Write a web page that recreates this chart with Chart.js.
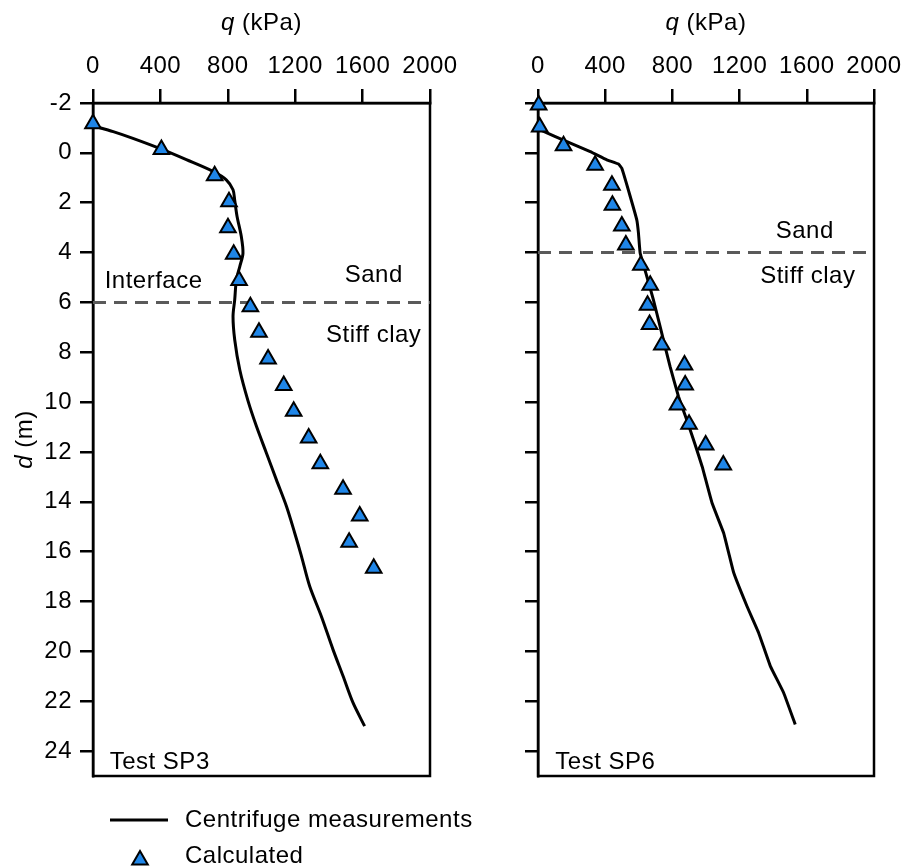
<!DOCTYPE html>
<html>
<head>
<meta charset="utf-8">
<script src="https://cdn.jsdelivr.net/npm/chart.js@4"></script>
<style>
  html, body { margin: 0; padding: 0; background: #fff; }
  #wrap { position: relative; width: 904px; height: 867px; }
  canvas { position: absolute; top: 0; }
  #c1 { left: 0; }
  #c2 { left: 450px; }
</style>
</head>
<body>
<div id="wrap">
  <canvas id="c1" width="904" height="867"></canvas>
  <canvas id="c2" width="454" height="867"></canvas>
</div>
<script>
const qTicks = [0, 400, 800, 1200, 1600, 2000];
const dTicks = [-2, 0, 2, 4, 6, 8, 10, 12, 14, 16, 18, 20, 22, 24];

// Test SP3
const sp3MeasQ = [5, 120, 237, 406, 554, 712, 791, 831, 841, 855, 880, 890, 871, 851, 841, 831, 841, 871, 920, 970, 1029, 1088, 1148, 1197, 1237, 1286, 1355, 1424, 1484, 1543, 1612];
const sp3MeasD = [-1.08, -0.85, -0.58, -0.15, 0.27, 0.74, 1.08, 1.48, 1.9, 2.55, 3.35, 4.03, 4.56, 5.09, 5.9, 6.56, 7.5, 8.7, 9.95, 10.97, 12.04, 13.11, 14.18, 15.25, 16.18, 17.39, 18.59, 19.92, 20.99, 22.06, 23.0];
const sp3CalcQ = [0, 406, 722, 807, 801, 835, 867, 934, 985, 1039, 1132, 1191, 1280, 1349, 1484, 1583, 1520, 1666];
const sp3CalcD = [-1.17, -0.13, 0.92, 1.96, 3.0, 4.07, 5.12, 6.17, 7.2, 8.27, 9.33, 10.37, 11.44, 12.47, 13.5, 14.57, 15.62, 16.67];
const sp3Interface = 6;

// Test SP6
const sp6MeasQ = [14, 172, 311, 410, 479, 499, 549, 588, 598, 608, 648, 687, 727, 786, 836, 885, 935, 977, 1036, 1105, 1135, 1165, 1244, 1313, 1383, 1462, 1531];
const sp6MeasD = [-0.92, -0.45, -0.05, 0.28, 0.45, 0.62, 1.75, 2.69, 3.22, 4.02, 4.96, 5.9, 6.97, 8.57, 9.77, 10.7, 11.7, 12.58, 14.05, 15.25, 16.05, 16.85, 18.19, 19.25, 20.59, 21.66, 22.93];
const sp6CalcQ = [4, 10, 152, 340, 440, 443, 499, 523, 612, 668, 652, 664, 737, 872, 876, 830, 899, 998, 1103];
const sp6CalcD = [-1.92, -1.04, -0.28, 0.5, 1.3, 2.1, 2.93, 3.7, 4.51, 5.31, 6.11, 6.89, 7.71, 8.51, 9.31, 10.12, 10.89, 11.72, 12.52];
const sp6Interface = 4;

const FONT = "'Liberation Sans', Arial, sans-serif";
const FS = 24;
const BLUE = '#1f86e8';
const AXW = 2.5;

const pts = (qs, ds) => qs.map((q, i) => ({ x: q, y: ds[i] }));

const panelDecor = {
  id: 'panelDecor',
  beforeDraw(chart) {
    chart.ctx.letterSpacing = '0.5px';
  },
  beforeDatasetsDraw(chart) {
    const { ctx, chartArea: a } = chart;
    ctx.save();
    ctx.strokeStyle = '#000';
    ctx.lineWidth = AXW;
    ctx.strokeRect(a.left, a.top, a.right - a.left, a.bottom - a.top);
    ctx.restore();
  },
  afterDraw(chart, args, o) {
    const { ctx, chartArea: a, scales } = chart;
    const xs = scales.x, ys = scales.y;
    ctx.save();
    ctx.fillStyle = '#000';
    ctx.textBaseline = 'middle';
    // x title: q (kPa)
    ctx.font = `italic ${FS}px ${FONT}`;
    const wq = ctx.measureText('q').width;
    ctx.font = `${FS}px ${FONT}`;
    const wr = ctx.measureText(' (kPa)').width;
    const cx = (a.left + a.right) / 2;
    const x0 = cx - (wq + wr) / 2;
    ctx.textAlign = 'left';
    ctx.font = `italic ${FS}px ${FONT}`;
    ctx.fillText('q', x0, 23);
    ctx.font = `${FS}px ${FONT}`;
    ctx.fillText(' (kPa)', x0 + wq, 23);
    // y title: d (m)
    if (o.yTitle) {
      ctx.save();
      ctx.translate(25, (a.top + a.bottom) / 2);
      ctx.rotate(-Math.PI / 2);
      ctx.font = `italic ${FS}px ${FONT}`;
      const wd = ctx.measureText('d').width;
      ctx.font = `${FS}px ${FONT}`;
      const wm = ctx.measureText(' (m)').width;
      const s = -(wd + wm) / 2;
      ctx.font = `italic ${FS}px ${FONT}`;
      ctx.fillText('d', s, 0);
      ctx.font = `${FS}px ${FONT}`;
      ctx.fillText(' (m)', s + wd, 0);
      ctx.restore();
    }
    // notes in data coordinates
    ctx.font = `${FS}px ${FONT}`;
    (o.notes || []).forEach(n => {
      ctx.textAlign = n.align || 'center';
      ctx.fillText(n.text, xs.getPixelForValue(n.q), ys.getPixelForValue(n.d));
    });
    // legend
    if (o.legend) {
      ctx.strokeStyle = '#000';
      ctx.lineWidth = 3;
      ctx.beginPath();
      ctx.moveTo(110, 820);
      ctx.lineTo(168, 820);
      ctx.stroke();
      ctx.fillStyle = BLUE;
      ctx.lineWidth = 2;
      ctx.beginPath();
      const r = 9;
      for (let k = 0; k < 3; k++) {
        const ang = k * 2 * Math.PI / 3;
        const px = 140 + Math.sin(ang) * r, py = 860 - Math.cos(ang) * r;
        k ? ctx.lineTo(px, py) : ctx.moveTo(px, py);
      }
      ctx.closePath();
      ctx.fill();
      ctx.stroke();
      ctx.fillStyle = '#000';
      ctx.textAlign = 'left';
      ctx.font = `${FS}px ${FONT}`;
      ctx.fillText('Centrifuge measurements', 185, 820);
      ctx.fillText('Calculated', 185, 856);
    }
    ctx.restore();
  }
};

function makePanel(canvas, cfg) {
  return new Chart(canvas.getContext('2d'), {
    type: 'scatter',
    data: {
      datasets: [
        {
          label: 'Interface',
          data: [{ x: qTicks[0], y: cfg.iface }, { x: qTicks[qTicks.length - 1], y: cfg.iface }],
          showLine: true,
          borderColor: '#5a5a5a',
          borderWidth: 3,
          borderDash: [13, 8],
          pointRadius: 0,
          order: 3
        },
        {
          label: 'Centrifuge measurements',
          data: cfg.meas,
          showLine: true,
          borderColor: '#000',
          borderWidth: 3,
          tension: cfg.tension,
          pointRadius: 0,
          order: 2
        },
        {
          label: 'Calculated',
          data: cfg.calc,
          pointStyle: 'triangle',
          pointRadius: 9,
          pointBorderWidth: 2,
          pointBackgroundColor: BLUE,
          pointBorderColor: '#000',
          clip: false,
          order: 1
        }
      ]
    },
    options: {
      responsive: false,
      animation: false,
      events: [],
      layout: { padding: { left: 0, top: 0, right: cfg.padRight, bottom: 91 } },
      plugins: {
        legend: { display: false },
        tooltip: { enabled: false },
        panelDecor: { yTitle: cfg.yTitle, notes: cfg.notes, legend: cfg.legend }
      },
      scales: {
        x: {
          type: 'linear',
          position: 'top',
          min: 0, max: 2000,
          afterBuildTicks: s => { s.ticks = qTicks.map(v => ({ value: v })); },
          afterFit: s => { s.height = 103; s.paddingLeft = 0; s.paddingRight = 0; },
          grid: { drawOnChartArea: false, color: '#000', lineWidth: AXW, tickLength: 14 },
          border: { display: true, color: '#000', width: AXW },
          ticks: {
            color: '#000', font: { family: FONT, size: FS }, padding: 8, maxRotation: 0,
            callback: v => String(v)
          }
        },
        y: {
          type: 'linear',
          position: 'left',
          reverse: true,
          min: -2, max: 25,
          afterBuildTicks: s => { s.ticks = dTicks.map(v => ({ value: v })); },
          afterFit: s => { s.width = cfg.yWidth; s.paddingTop = 0; s.paddingBottom = 0; },
          grid: { drawOnChartArea: false, color: '#000', lineWidth: AXW, tickLength: 13 },
          border: { display: true, color: '#000', width: AXW },
          ticks: {
            color: '#000', font: { family: FONT, size: FS }, padding: 8,
            callback: v => cfg.yLabels ? String(v) : ''
          }
        }
      }
    },
    plugins: [panelDecor]
  });
}

makePanel(document.getElementById('c1'), {
  meas: pts(sp3MeasQ, sp3MeasD),
  calc: pts(sp3CalcQ, sp3CalcD),
  iface: sp3Interface,
  tension: 0.3,
  yWidth: 93,
  padRight: 474,
  yLabels: true,
  yTitle: true,
  legend: true,
  notes: [
    { text: 'Interface', q: 69, d: 5.17, align: 'left' },
    { text: 'Sand', q: 1666, d: 4.93 },
    { text: 'Stiff clay', q: 1666, d: 7.34 },
    { text: 'Test SP3', q: 99, d: 24.45, align: 'left' }
  ]
});

makePanel(document.getElementById('c2'), {
  meas: pts(sp6MeasQ, sp6MeasD),
  calc: pts(sp6CalcQ, sp6CalcD),
  iface: sp6Interface,
  tension: 0.1,
  yWidth: 88,
  padRight: 30,
  yLabels: false,
  yTitle: false,
  legend: false,
  notes: [
    { text: 'Sand', q: 1588, d: 3.17 },
    { text: 'Stiff clay', q: 1606, d: 4.97 },
    { text: 'Test SP6', q: 103, d: 24.45, align: 'left' }
  ]
});
</script>
</body>
</html>
